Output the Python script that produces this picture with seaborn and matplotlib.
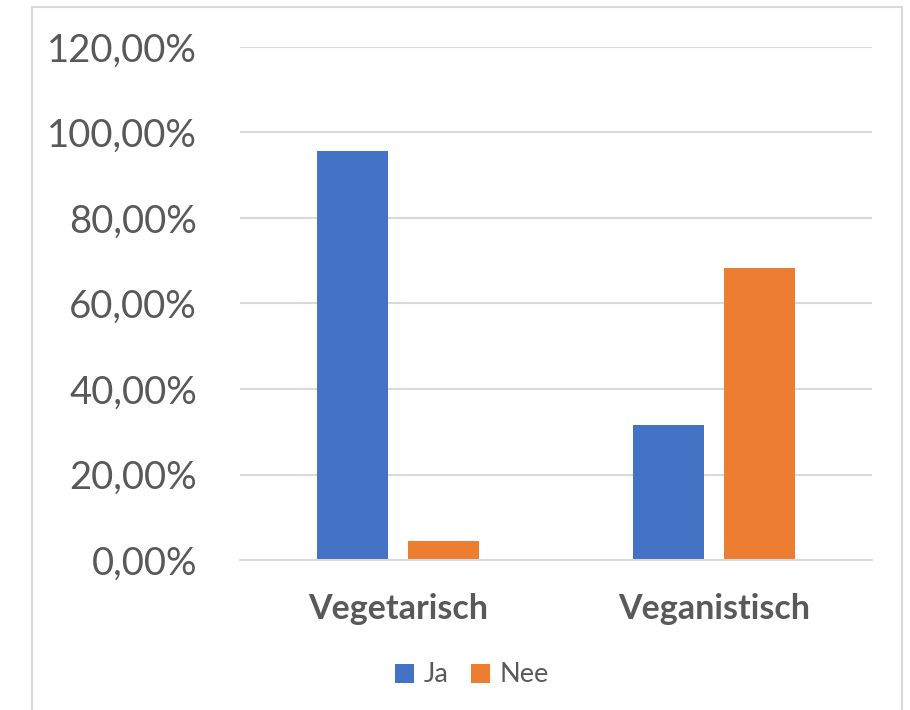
import matplotlib
matplotlib.use("Agg")
import matplotlib.pyplot as plt
import matplotlib.patches as mpatches
from matplotlib.ticker import FuncFormatter
import seaborn as sns
import pandas as pd

categories = ["Vegetarisch", "Veganistisch"]
series = ["Ja", "Nee"]
ja_values = [95.65, 31.58]
nee_values = [4.35, 68.42]
y_ticks = [0, 20, 40, 60, 80, 100, 120]

df = pd.DataFrame({
    "categorie": categories * 2,
    "antwoord": [series[0]] * 2 + [series[1]] * 2,
    "waarde": ja_values + nee_values,
})

sns.set_theme(style="white")
plt.rcParams["font.family"] = ["Lato", "DejaVu Sans"]

text_col = "#595959"
grid_col = "#D9D9D9"
colors = {"Ja": "#4472C4", "Nee": "#ED7D31"}

fig = plt.figure(figsize=(9.1, 7.1), dpi=100)
W, H = 910, 710
ax = fig.add_axes([240 / W, 1 - 560 / H, (872 - 240) / W, (560 - 47) / H])

sns.barplot(data=df, x="categorie", y="waarde", hue="antwoord",
            hue_order=series, order=categories, palette=colors,
            width=0.573, gap=0.21, ax=ax, legend=False, saturation=1,
            edgecolor="none", linewidth=0)

ax.set_xlim(-0.5, 1.5)
ax.set_ylim(0, 120)
ax.set_yticks(y_ticks)
ax.yaxis.set_major_formatter(FuncFormatter(lambda v, p: f"{v:.2f}%".replace(".", ",")))
ax.grid(axis="y", color=grid_col, linewidth=1.5)
ax.set_axisbelow(True)
for s in ["top", "right", "left"]:
    ax.spines[s].set_visible(False)
ax.spines["bottom"].set_color(grid_col)
ax.spines["bottom"].set_linewidth(1.5)
ax.set_xlabel("")
ax.set_ylabel("")
ax.tick_params(axis="y", length=0, pad=31, labelsize=27.5, labelcolor=text_col)
ax.tick_params(axis="x", length=0, pad=24, labelsize=24.5, labelcolor=text_col)
for lbl in ax.get_xticklabels():
    lbl.set_fontweight("bold")

handles = [mpatches.Patch(facecolor=colors[s], edgecolor="none", label=s) for s in series]
leg = fig.legend(handles=handles, loc="center", ncol=2,
                 bbox_to_anchor=(472 / W, 1 - 675 / H), frameon=False,
                 fontsize=19.5, handlelength=0.68, handleheight=0.7,
                 handletextpad=0.36, columnspacing=0.84)
for t in leg.get_texts():
    t.set_color(text_col)

frame = mpatches.Rectangle((32 / W, -0.05), (902 - 32) / W, (1 - 7 / H) + 0.05,
                           transform=fig.transFigure, fill=False,
                           edgecolor=grid_col, linewidth=1.5)
fig.patches.append(frame)

fig.savefig("out.png", dpi=100, facecolor="white")
